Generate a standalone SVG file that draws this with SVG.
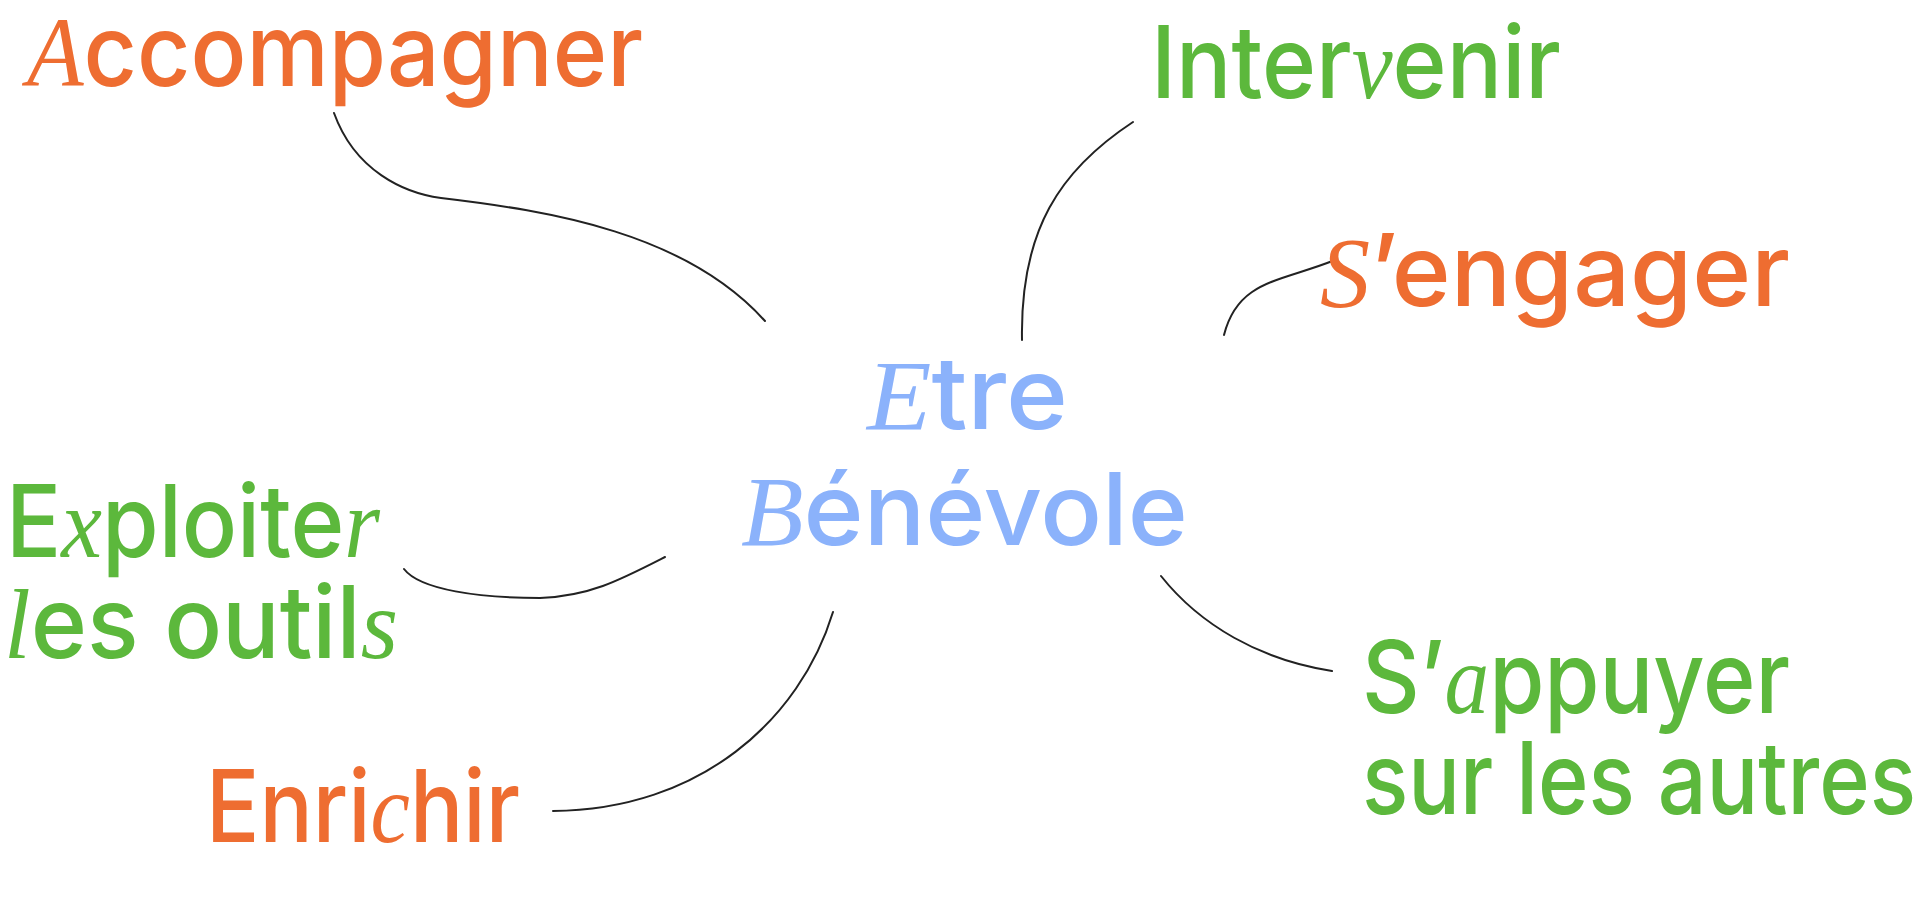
<svg xmlns="http://www.w3.org/2000/svg" width="1920" height="918" viewBox="0 0 1920 918">
<style>
text{font-family:Inter,"Liberation Sans",Arial,sans-serif;font-size:100px;font-weight:500}
.o{fill:#ee6d31}.g{fill:#5cb83c}.b{fill:#8bb2fb}
.h{font-family:"Liberation Serif",serif;font-style:italic;font-weight:400}
.c path{fill:none;stroke:#222;stroke-width:2;stroke-linecap:round}
</style>
<rect width="1920" height="918" fill="#fff"/>
<g class="c" id="connectors">
<path d="M334,113 C355,171 404,193 441,198 C551,211 686,233 765,321"/>
<path d="M1133,122 C1060,170 1020,230 1022,340"/>
<path d="M1335,260 C1280,282 1238,280 1224,335"/>
<path d="M404,569 C420,590 480,598 540,598 C590,596 620,580 665,557"/>
<path d="M553,811 C700,810 800,720 833,612"/>
<path d="M1161,576 C1200,625 1260,660 1332,671"/>
</g>
<g id="center"><text class="b" x="867" y="429" textLength="201" lengthAdjust="spacingAndGlyphs"><tspan class="h">E</tspan>tre</text>
<text class="b" x="741" y="545" textLength="447" lengthAdjust="spacingAndGlyphs"><tspan class="h">B</tspan>énévole</text></g>
<g id="accompagner"><text class="o" x="27" y="86" textLength="616" lengthAdjust="spacingAndGlyphs"><tspan class="h">A</tspan>ccompagner</text></g>
<g id="intervenir"><text class="g" x="1151" y="98" textLength="410" lengthAdjust="spacingAndGlyphs">Inter<tspan class="h">v</tspan>enir</text></g>
<g id="sengager"><text class="o" x="1320" y="306" textLength="470" lengthAdjust="spacingAndGlyphs"><tspan class="h">S</tspan>’engager</text></g>
<g id="exploiter"><text class="g" x="6" y="557" textLength="374" lengthAdjust="spacingAndGlyphs">E<tspan class="h">x</tspan>ploite<tspan class="h">r</tspan></text>
<text class="g" x="4" y="658" textLength="394" lengthAdjust="spacingAndGlyphs"><tspan class="h">l</tspan>es outil<tspan class="h">s</tspan></text></g>
<g id="enrichir"><text class="o" x="206" y="842" textLength="314" lengthAdjust="spacingAndGlyphs">Enri<tspan class="h">c</tspan>hir</text></g>
<g id="sappuyer"><text class="g" x="1362" y="713" textLength="428" lengthAdjust="spacingAndGlyphs">S’<tspan class="h">a</tspan>ppuyer</text>
<text class="g" x="1362" y="814" textLength="554" lengthAdjust="spacingAndGlyphs">sur les autres</text></g>
</svg>
